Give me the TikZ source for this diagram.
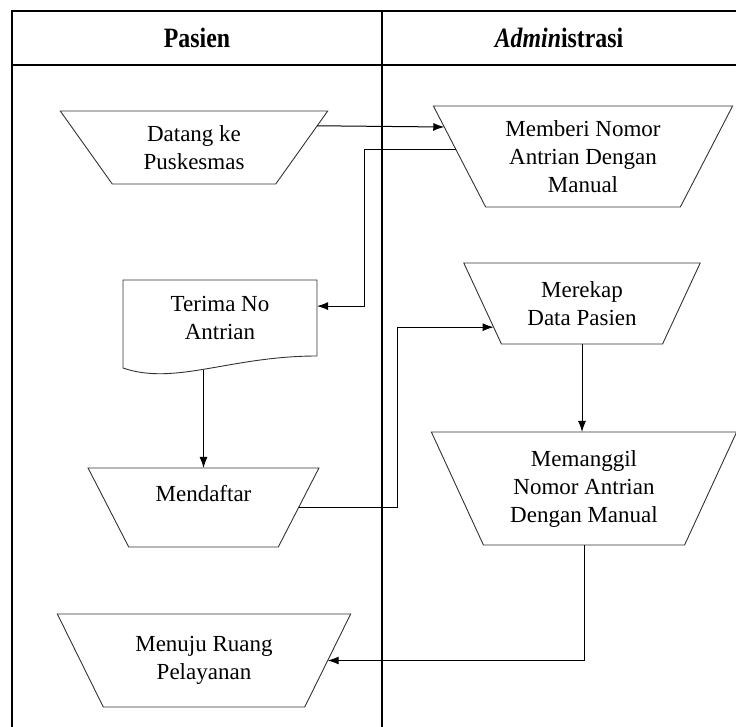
\documentclass[tikz,border=0pt]{standalone}
\usepackage{fontspec}
\setmainfont{Liberation Serif}
\newfontfamily\headfont[FakeStretch=0.85]{Liberation Serif}
\usetikzlibrary{shapes.geometric,arrows.meta}

\begin{document}
\begin{tikzpicture}[x=1pt, y=-1pt,
  manualnode/.style={trapezium, shape border rotate=180, trapezium stretches=true, draw=black!80, line width=0.9pt, outer sep=0pt, inner sep=0pt, align=center, font=\fontsize{23}{28}\selectfont},
  docnode/.style={rectangle, minimum width=194pt, minimum height=76pt, outer sep=0pt, align=center, font=\fontsize{23}{28}\selectfont},
  headtext/.style={font=\headfont\bfseries\fontsize{28}{32}\selectfont},
  flow/.style={line width=1pt, -{Latex[length=11pt,width=8pt]}}]

\useasboundingbox (0,0) rectangle (736,727);

% swimlane frame
\begin{scope}
\clip (0,0) rectangle (736,727);
\draw[line width=1.4pt] (12,740) -- (12,11) -- (745,11);
\draw[line width=1.4pt] (12,65) -- (745,65);
\draw[line width=1.4pt] (382,11) -- (382,740);
\end{scope}

\node[headtext] (pasien) at (197,38) {Pasien};
\node[headtext] (admin) at (559,38) {\textit{Admin}istrasi};

\node[manualnode, minimum width=268pt, minimum height=73pt, trapezium angle=54] (datang) at (194,147.5) {Datang ke\\Puskesmas};
\node[manualnode, minimum width=300pt, minimum height=101pt, trapezium angle=60] (memberi) at (583,156.5) {Memberi Nomor\\Antrian Dengan\\Manual};
\node[docnode] (terima) at (220,318) {Terima No\\Antrian};
\node[manualnode, minimum width=237pt, minimum height=81pt, trapezium angle=60] (merekap) at (582,303.5) {Merekap\\Data Pasien};
\node[manualnode, minimum width=231pt, minimum height=79pt, trapezium angle=59.5] (mendaftar) at (203.5,507.5) {Mendaftar\\~};
\node[manualnode, minimum width=306pt, minimum height=113pt, trapezium angle=63.6] (memanggil) at (584,488.5) {Memanggil\\Nomor Antrian\\Dengan Manual};
\node[manualnode, minimum width=294pt, minimum height=93pt, trapezium angle=57] (menuju) at (204,660.5) {Menuju Ruang\\Pelayanan};

% document outline
\draw[draw=black!80, line width=0.9pt] (terima.south east) -- (terima.north east) -- (terima.north west) -- ([yshift=-12pt]terima.south west)
  .. controls +(52,18) and +(-87,0) .. coordinate[pos=0.47] (terimawave) (terima.south east);

\draw[flow] (datang.10) -- (memberi.168);
\draw[flow] (memberi.177) -- ++(-92,0) |- (terima.7);
\draw[flow] (terimawave -| mendaftar.north) -- (mendaftar.north);
\draw[flow] (mendaftar.east) -- ++(99,0) |- (merekap.195);
\draw[flow] (merekap.south) -- (merekap.south |- memanggil.north);
\draw[flow] (memanggil.south) |- (menuju.east);

\end{tikzpicture}
\end{document}
